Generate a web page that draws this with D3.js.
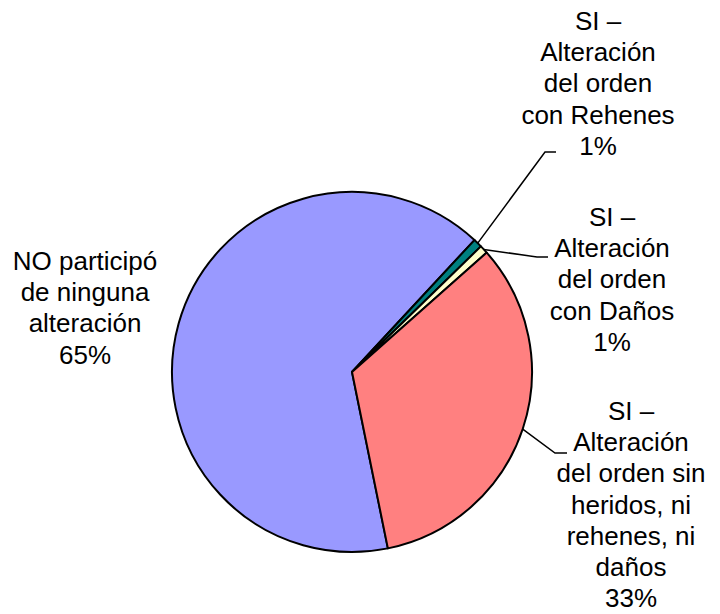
<!DOCTYPE html>
<html>
<head>
<meta charset="utf-8">
<script src="https://cdn.jsdelivr.net/npm/d3@7"></script>
<style>
  html, body { margin: 0; padding: 0; background: #fff; }
  svg { display: block; }
  text { font-family: "Liberation Sans", Arial, sans-serif; font-size: 26px; fill: #000; }
</style>
</head>
<body>
<svg id="chart" width="720" height="614"></svg>
<script>
// ---- data ----
const categories = [
  "NO participó de ninguna alteración",
  "SI – Alteración del orden con Rehenes",
  "SI – Alteración del orden con Daños",
  "SI – Alteración del orden sin heridos, ni rehenes, ni daños"
];
const labelLines = [
  ["NO participó", "de ninguna", "alteración"],
  ["SI –", "Alteración", "del orden", "con Rehenes"],
  ["SI –", "Alteración", "del orden", "con Daños"],
  ["SI –", "Alteración", "del orden sin", "heridos, ni", "rehenes, ni", "daños"]
];
const values = [65.1, 0.8, 0.75, 33.35];
const colors = ["#9999FF", "#008080", "#FFFFCC", "#FF8080"];

// ---- layout ----
const svg = d3.select("#chart");
const cx = 352, cy = 372, R = 180;
const startDeg = 168.5;
const pie = d3.pie().sort(null)
  .startAngle(startDeg * Math.PI / 180)
  .endAngle((startDeg + 360) * Math.PI / 180);
const arcs = pie(values);
const arc = d3.arc().innerRadius(0).outerRadius(R);

const g = svg.append("g").attr("transform", `translate(${cx},${cy})`);
g.selectAll("path").data(arcs).join("path")
  .attr("d", arc)
  .attr("fill", (d, i) => colors[i])
  .attr("stroke", "#000")
  .attr("stroke-width", 2)
  .attr("stroke-linejoin", "round");

const fmt = v => Math.round(v) + "%";
const total = d3.sum(values);

// label placement (centre x, first line y) and leader elbows
const labelPos = [
  { x: 85, y: 270, leader: null },
  { x: 598, y: 30, leader: [[545, 152], [556, 152]] },
  { x: 612, y: 226, leader: [[537, 257], [548, 257]] },
  { x: 631, y: 420, leader: [[555, 453], [567, 453]] }
];
const lineH = 31.2;

arcs.forEach((d, i) => {
  const p = labelPos[i];
  const lines = labelLines[i].concat([fmt(values[i] / total * 100)]);
  const t = svg.append("text").attr("text-anchor", "middle");
  lines.forEach((ln, k) => {
    t.append("tspan").attr("x", p.x).attr("y", p.y + k * lineH).text(ln);
  });
  if (p.leader) {
    const a = (d.startAngle + d.endAngle) / 2;
    const sx = cx + R * Math.sin(a), sy = cy - R * Math.cos(a);
    const pts = [[sx, sy]].concat(p.leader);
    svg.append("path")
      .attr("d", d3.line()(pts))
      .attr("fill", "none")
      .attr("stroke", "#000")
      .attr("stroke-width", 1.5);
  }
});
</script>
</body>
</html>
